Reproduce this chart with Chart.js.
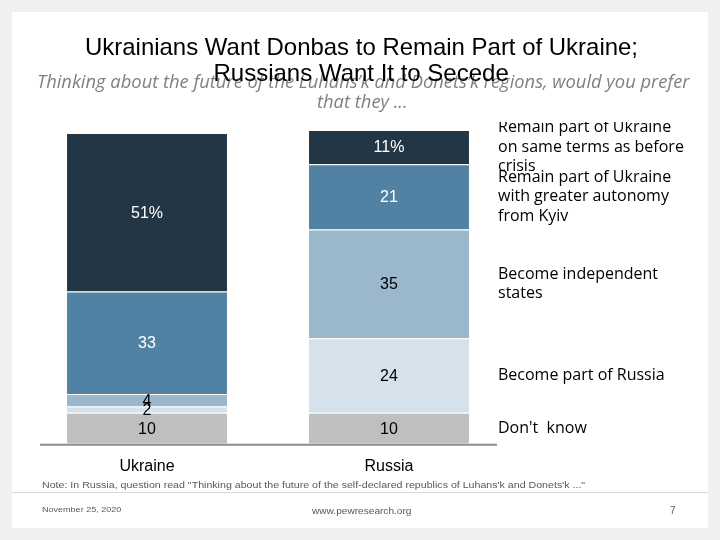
<!DOCTYPE html>
<html>
<head>
<meta charset="utf-8">
<script src="https://cdn.jsdelivr.net/npm/chart.js@4.4.1/dist/chart.umd.min.js"></script>
<style>
  html, body { margin: 0; padding: 0; background: #f0f0f0; }
  #slide { position: relative; width: 720px; height: 540px; overflow: hidden; }
  #card { position: absolute; left: 12px; top: 12px; width: 696px; height: 516px; background: #fff; }
  #rule { position: absolute; left: 12px; top: 492px; width: 696px; height: 1px; background: #d9d9d9; }
  canvas { position: absolute; left: 0; top: 0; }
  .t { position: absolute; white-space: nowrap; transform-origin: 0 50%; }
  .title { font-family: "Liberation Sans", Arial, sans-serif; font-size: 24px; line-height: 26px; color: #000; }
  .sub { font-family: "Open Sans", sans-serif; font-style: italic; font-size: 18px; line-height: 20px; color: #808080; }
  .small { font-family: "Liberation Sans", Arial, sans-serif; font-size: 9px; line-height: 10px; color: #595959; }
</style>
</head>
<body>
<div id="slide">
  <div id="card"></div>
  <div id="rule"></div>
  <canvas id="pollChart" width="720" height="540"></canvas>

  <div class="t sub" data-cx="363" data-cy="81" data-w="653">Thinking about the future of the Luhans’k and Donets’k regions, would you prefer</div>
  <div class="t sub" data-cx="362" data-cy="101" data-w="0">that they ...</div>
  <div class="t title" data-cx="361" data-cy="47" data-w="553">Ukrainians Want Donbas to Remain Part of Ukraine;</div>
  <div class="t title" data-cx="361" data-cy="73" data-w="0">Russians Want It to Secede</div>

  <div class="t small" data-x="42" data-cy="485" data-w="543">Note: In Russia, question read "Thinking about the future of the self-declared republics of Luhans'k and Donets'k ..."</div>
  <div class="t small" data-x="42" data-cy="510" data-w="79" style="font-size:8px">November 25, 2020</div>
  <div class="t small" data-cx="362" data-cy="511" data-w="100">www.pewresearch.org</div>
  <div class="t small" data-x="670" data-cy="511" data-w="0" style="font-size:10px">7</div>
</div>

<script>
// categories and series (percent of respondents)
const categories = ['Ukraine', 'Russia'];
const sameTerms = [51, 11];
const autonomy = [33, 21];
const independent = [4, 35];
const partOfRussia = [2, 24];
const dontKnow = [10, 10];

// right-hand labels, one per series, already wrapped
const sameTermsLabel = ['Remain part of Ukraine', 'on same terms as before', 'crisis'];
const autonomyLabel = ['Remain part of Ukraine', 'with greater autonomy', 'from Kyiv'];
const independentLabel = ['Become independent', 'states'];
const partOfRussiaLabel = ['Become part of Russia'];
const dontKnowLabel = ["Don't  know"];

// fit the slide texts to their widths
let subScale = 1;
document.querySelectorAll('.t').forEach(el => {
    const w = +el.dataset.w;
    const nat = el.offsetWidth;
    let s = 1;
    if (w > 0) { s = w / nat; }
    else if (el.classList.contains('sub')) { s = subScale; }
    if (el.classList.contains('sub') && w > 0) subScale = s;
    const h = el.offsetHeight;
    const left = el.dataset.cx !== undefined ? +el.dataset.cx - nat * s / 2 : +el.dataset.x;
    el.style.left = left + 'px';
    el.style.top = (+el.dataset.cy - h / 2) + 'px';
    el.style.transform = 'scaleX(' + s + ')';
});

// values inside the segments, labels to the right of the Russia bar
const segmentLabels = {
    id: 'segmentLabels',
    afterDatasetsDraw(chart) {
        const ctx = chart.ctx;
        const last = chart.data.datasets.length - 1;
        ctx.save();
        ctx.textAlign = 'center';
        ctx.textBaseline = 'middle';
        ctx.font = '16px "Liberation Sans", Arial, sans-serif';
        chart.data.datasets.forEach((ds, i) => {
            chart.getDatasetMeta(i).data.forEach((bar, j) => {
                const yMid = (bar.y + bar.base) / 2;
                ctx.fillStyle = ds.labelColor;
                ctx.fillText(ds.data[j] + (i === last ? '%' : ''), bar.x, yMid + 1);
            });
        });
        ctx.restore();

        // axis baseline
        const area = chart.chartArea;
        ctx.save();
        ctx.strokeStyle = '#8c8c8c';
        ctx.lineWidth = 2;
        ctx.beginPath();
        ctx.moveTo(area.left + 14, area.bottom + 1);
        ctx.lineTo(area.right - 13, area.bottom + 1);
        ctx.stroke();
        ctx.restore();

        // series names next to the Russia bar
        ctx.save();
        ctx.beginPath();
        ctx.rect(0, area.top - 8, chart.width, chart.height);
        ctx.clip();
        ctx.font = '16px "Open Sans", sans-serif';
        ctx.fillStyle = '#000';
        ctx.textAlign = 'left';
        ctx.textBaseline = 'middle';
        const lineH = 19.5;
        chart.data.datasets.forEach((ds, i) => {
            const bar = chart.getDatasetMeta(i).data[1];
            const yMid = (bar.y + bar.base) / 2;
            const lines = ds.sideLabel;
            const y0 = yMid - (lines.length - 1) * lineH / 2;
            lines.forEach((txt, k) => ctx.fillText(txt, area.right - 12, y0 + k * lineH));
        });
        ctx.restore();
    }
};

const ctx = document.getElementById('pollChart').getContext('2d');

const pollChart = new Chart(ctx, {
    type: 'bar',
    data: {
        labels: categories,
        datasets: [
            { label: dontKnowLabel.join(' '), data: dontKnow, backgroundColor: '#bfbfbf', labelColor: '#000', sideLabel: dontKnowLabel },
            { label: partOfRussiaLabel.join(' '), data: partOfRussia, backgroundColor: '#d5e2eb', labelColor: '#000', sideLabel: partOfRussiaLabel },
            { label: independentLabel.join(' '), data: independent, backgroundColor: '#9bb7cc', labelColor: '#000', sideLabel: independentLabel },
            { label: autonomyLabel.join(' '), data: autonomy, backgroundColor: '#5282a3', labelColor: '#fff', sideLabel: autonomyLabel },
            { label: sameTermsLabel.join(' '), data: sameTerms, backgroundColor: '#233645', labelColor: '#fff', sideLabel: sameTermsLabel }
        ]
    },
    options: {
        responsive: false,
        animation: false,
        layout: { padding: { left: 26, right: 210, top: 130, bottom: 51 } },
        datasets: {
            bar: {
                categoryPercentage: 1,
                barPercentage: 0.661,
                borderColor: '#ffffff',
                borderWidth: { top: 1, bottom: 0, left: 0, right: 0 },
                borderSkipped: false
            }
        },
        plugins: {
            legend: { display: false },
            tooltip: { enabled: false }
        },
        scales: {
            x: {
                stacked: true,
                grid: { display: false, drawTicks: false },
                border: { display: false },
                ticks: {
                    color: '#000',
                    padding: 13,
                    font: { family: '"Liberation Sans", Arial, sans-serif', size: 16 }
                }
            },
            y: {
                stacked: true,
                display: false,
                min: 0,
                max: 101
            }
        }
    },
    plugins: [segmentLabels]
});
</script>
</body>
</html>
